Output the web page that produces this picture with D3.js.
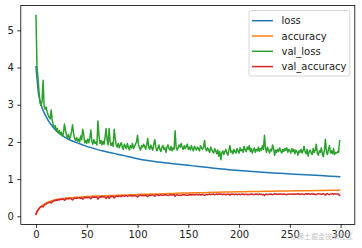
<!DOCTYPE html>
<html>
<head>
<meta charset="utf-8">
<script src="https://cdn.jsdelivr.net/npm/d3@7"></script>
<style>
  html, body { margin: 0; padding: 0; background: #fff; }
  svg { display: block; }
</style>
</head>
<body>
<script>
// training history
const trainEpochs = [0,1,2,3,4,5,6,8,10,12,15,20,25,30,35,40,45,50,55,60,65,70,75,80,85,90,95,100,
  110,120,130,140,150,160,170,180,190,200,210,220,230,240,250,260,270,280,290,299];
const loss = [4.02,3.72,3.40,3.22,3.10,3.00,2.92,2.78,2.68,2.58,2.46,2.30,2.19,2.10,2.03,1.98,1.93,1.88,1.84,1.80,1.76,1.73,1.70,1.67,1.64,1.61,1.58,1.55,
  1.50,1.46,1.43,1.40,1.37,1.34,1.31,1.28,1.255,1.23,1.21,1.19,1.17,1.155,1.14,1.125,1.11,1.095,1.08,1.065];
const accuracy = [0.05,0.12,0.17,0.21,0.24,0.27,0.29,0.33,0.36,0.38,0.41,0.45,0.47,0.49,0.50,0.51,0.52,0.53,0.54,0.545,0.55,0.555,0.56,0.565,0.57,0.575,0.58,0.585,
  0.595,0.60,0.61,0.62,0.63,0.635,0.64,0.65,0.655,0.66,0.665,0.67,0.675,0.68,0.683,0.687,0.69,0.695,0.70,0.703];

const valLoss = [
  5.40,4.02,3.72,3.35,3.05,2.98,3.10,3.66,2.96,2.88,
  2.94,2.80,2.72,2.66,2.62,2.86,2.58,2.46,2.40,2.44,
  2.30,2.36,2.24,2.30,2.20,2.26,2.16,2.22,2.48,2.34,
  2.18,2.12,2.20,2.08,2.14,2.28,2.46,2.22,2.10,2.04,
  2.12,2.02,2.08,2.00,2.16,2.06,2.34,2.20,1.98,2.04,
  1.96,2.08,1.98,2.10,2.32,2.02,1.94,2.06,1.96,2.00,
  1.92,2.56,2.18,1.96,2.04,1.92,2.02,1.94,2.12,2.36,
  2.06,1.92,2.36,2.00,1.90,1.98,1.88,2.34,2.10,1.92,
  1.86,1.96,1.84,1.92,1.98,1.86,1.80,1.94,1.88,1.82,
  1.96,1.86,1.78,1.90,1.84,1.96,1.82,1.88,1.94,2.00,
  2.18,1.92,1.84,1.78,1.90,1.86,1.94,1.88,1.80,1.92,
  2.09,1.86,1.80,1.92,1.84,1.78,1.94,2.06,1.86,1.76,
  1.82,1.92,1.80,1.74,1.86,1.90,1.80,1.84,1.72,1.86,
  1.92,1.82,1.78,1.88,1.76,1.84,1.80,2.30,1.86,1.78,
  1.84,1.92,1.86,1.96,1.84,1.80,1.90,1.82,1.88,1.94,
  1.80,1.86,1.78,1.90,1.82,1.76,1.88,1.84,1.78,1.86,
  1.82,1.76,1.90,1.84,1.80,1.86,2.04,1.82,1.76,1.84,
  1.78,1.72,1.86,1.80,1.74,1.70,1.82,1.76,1.68,1.78,
  1.62,1.74,1.52,1.70,1.76,1.66,1.74,1.80,1.70,1.64,
  1.78,1.90,1.72,1.76,1.68,1.80,1.74,1.70,1.82,1.76,
  1.70,1.84,1.76,1.80,1.72,1.88,1.78,1.74,1.86,1.80,
  1.90,1.74,1.82,1.70,1.78,1.84,1.72,1.80,1.76,1.86,
  1.74,1.82,1.78,1.90,1.80,2.18,1.84,1.72,1.86,1.78,
  1.70,1.80,1.76,1.92,1.82,1.64,1.78,1.72,1.80,1.74,
  1.84,1.76,1.70,1.80,1.74,1.82,1.78,1.84,1.72,1.80,
  1.76,1.70,1.82,1.74,1.80,1.68,1.78,1.74,1.64,1.76,
  1.72,1.80,1.70,1.76,1.88,1.74,1.68,1.80,1.62,1.74,
  1.78,1.70,1.66,1.82,1.72,1.78,1.94,1.70,1.64,1.76,
  1.72,1.84,1.68,1.60,1.78,2.07,1.74,1.66,1.80,1.90,
  1.70,1.76,1.68,1.82,1.66,1.72,1.70,1.74,1.72,2.03
];

const valAccuracy = [
  0.06,0.13,0.17,0.21,0.24,0.26,0.27,0.25,0.30,0.32,
  0.33,0.35,0.36,0.37,0.38,0.36,0.39,0.41,0.42,0.42,
  0.44,0.43,0.45,0.44,0.46,0.45,0.47,0.46,0.43,0.45,
  0.47,0.48,0.47,0.48,0.48,0.46,0.44,0.47,0.49,0.49,
  0.48,0.50,0.49,0.50,0.48,0.50,0.46,0.48,0.51,0.50,
  0.51,0.50,0.51,0.50,0.47,0.51,0.52,0.51,0.52,0.51,
  0.52,0.46,0.50,0.52,0.51,0.53,0.52,0.53,0.51,0.48,
  0.52,0.53,0.48,0.52,0.54,0.53,0.54,0.49,0.52,0.54,
  0.54,0.53,0.55,0.54,0.53,0.55,0.55,0.54,0.55,0.55,
  0.54,0.55,0.56,0.55,0.56,0.54,0.56,0.55,0.55,0.54,
  0.52,0.55,0.56,0.57,0.56,0.56,0.55,0.56,0.57,0.55,
  0.53,0.56,0.57,0.56,0.57,0.57,0.56,0.54,0.57,0.58,
  0.57,0.56,0.57,0.58,0.57,0.56,0.58,0.57,0.58,0.57,
  0.56,0.57,0.58,0.57,0.58,0.57,0.58,0.54,0.57,0.58,
  0.57,0.56,0.57,0.56,0.58,0.58,0.57,0.58,0.57,0.56,
  0.58,0.57,0.59,0.57,0.58,0.59,0.57,0.58,0.59,0.58,
  0.58,0.59,0.57,0.58,0.59,0.58,0.56,0.58,0.59,0.58,
  0.59,0.60,0.58,0.59,0.59,0.60,0.58,0.59,0.60,0.59,
  0.60,0.59,0.60,0.59,0.58,0.60,0.59,0.58,0.59,0.60,
  0.59,0.57,0.60,0.59,0.60,0.58,0.59,0.60,0.58,0.59,
  0.60,0.58,0.59,0.59,0.60,0.58,0.59,0.60,0.58,0.59,
  0.58,0.60,0.59,0.60,0.59,0.58,0.60,0.59,0.60,0.58,
  0.60,0.59,0.59,0.58,0.59,0.56,0.59,0.60,0.58,0.59,
  0.60,0.59,0.60,0.58,0.59,0.61,0.59,0.60,0.59,0.60,
  0.59,0.60,0.60,0.59,0.60,0.59,0.59,0.58,0.60,0.59,
  0.60,0.60,0.59,0.60,0.59,0.60,0.59,0.60,0.61,0.59,
  0.60,0.59,0.60,0.60,0.58,0.60,0.61,0.59,0.61,0.60,
  0.59,0.60,0.61,0.59,0.60,0.59,0.58,0.60,0.61,0.60,
  0.60,0.59,0.60,0.61,0.59,0.57,0.60,0.61,0.59,0.58,
  0.60,0.60,0.61,0.59,0.61,0.60,0.60,0.60,0.60,0.56
];

const xTicks = [0, 50, 100, 150, 200, 250, 300];
const yTicks = [0, 1, 2, 3, 4, 5];
const labels = ["loss", "accuracy", "val_loss", "val_accuracy"];
const colors = ["#1f77b4", "#ff7f0e", "#2ca02c", "#d62728"];

const W = 362, H = 248;
const margin = {left: 20.8, right: 354.8, top: 5.5, bottom: 224.4};
const font = "DejaVu Sans, sans-serif";

const series = [
  loss.map((v, i) => [trainEpochs[i], v]),
  accuracy.map((v, i) => [trainEpochs[i], v]),
  valLoss.map((v, i) => [i, v]),
  valAccuracy.map((v, i) => [i, v])
];

// matplotlib style 5% margins
const allPts = series.flat();
const [x0, x1] = d3.extent(allPts, d => d[0]);
const [y0, y1] = d3.extent(allPts, d => d[1]);
const mx = (x1 - x0) * 0.05, my = (y1 - y0) * 0.05;

const x = d3.scaleLinear().domain([x0 - mx, x1 + mx]).range([margin.left, margin.right]);
const y = d3.scaleLinear().domain([y0 - my, y1 + my]).range([margin.bottom, margin.top]);

const svg = d3.select("body").append("svg")
    .attr("width", W)
    .attr("height", H)
    .style("font-family", font);

const line = d3.line()
    .x(d => x(d[0]))
    .y(d => y(d[1]));

svg.append("g")
  .selectAll("path")
  .data(series)
  .join("path")
    .attr("fill", "none")
    .attr("stroke", (d, i) => colors[i])
    .attr("stroke-width", 1.5)
    .attr("stroke-linejoin", "round")
    .attr("stroke-linecap", "square")
    .attr("d", (d, i) => i < 2 ? line.curve(d3.curveMonotoneX)(d) : line.curve(d3.curveLinear)(d));

// axes
const xAxis = svg.append("g")
    .attr("transform", `translate(0,${margin.bottom})`)
    .call(d3.axisBottom(x).tickValues(xTicks).tickFormat(d3.format("d")).tickSize(3.5).tickPadding(3.5));
const yAxis = svg.append("g")
    .attr("transform", `translate(${margin.left},0)`)
    .call(d3.axisLeft(y).tickValues(yTicks).tickFormat(d3.format("d")).tickSize(3.5).tickPadding(3.5));

[xAxis, yAxis].forEach(g => {
  g.select(".domain").remove();
  g.selectAll("line").attr("stroke", "#000").attr("stroke-width", 0.8);
  g.selectAll("text").attr("font-size", 10).attr("font-family", font).attr("fill", "#222");
});

svg.append("rect")
    .attr("x", margin.left)
    .attr("y", margin.top)
    .attr("width", margin.right - margin.left)
    .attr("height", margin.bottom - margin.top)
    .attr("fill", "none")
    .attr("stroke", "#000")
    .attr("stroke-width", 0.8);

// legend
const lg = svg.append("g").attr("transform", "translate(249,10.5)");
lg.append("rect")
    .attr("width", 100.8)
    .attr("height", 65.5)
    .attr("rx", 2)
    .attr("fill", "#fff")
    .attr("fill-opacity", 0.8)
    .attr("stroke", "#ccc")
    .attr("stroke-width", 0.8);

const items = lg.selectAll("g.item")
  .data(labels)
  .join("g")
    .attr("class", "item")
    .attr("transform", (d, i) => `translate(0,${10.2 + i * 15.3})`);
items.append("line")
    .attr("x1", 3).attr("x2", 24)
    .attr("stroke", (d, i) => colors[i])
    .attr("stroke-width", 1.5);
items.append("text")
    .attr("x", 32.5)
    .attr("dy", "0.35em")
    .attr("font-size", 10)
    .attr("fill", "#222")
    .text(d => d);

// watermark
svg.append("text")
    .attr("x", 353)
    .attr("y", 238.5)
    .attr("text-anchor", "end")
    .attr("font-size", 7)
    .attr("font-family", "Noto Sans CJK SC, sans-serif")
    .attr("fill", "#b8b8b8")
    .attr("fill-opacity", 0.85)
    .text("@稀土掘金技术社区");
</script>
</body>
</html>
